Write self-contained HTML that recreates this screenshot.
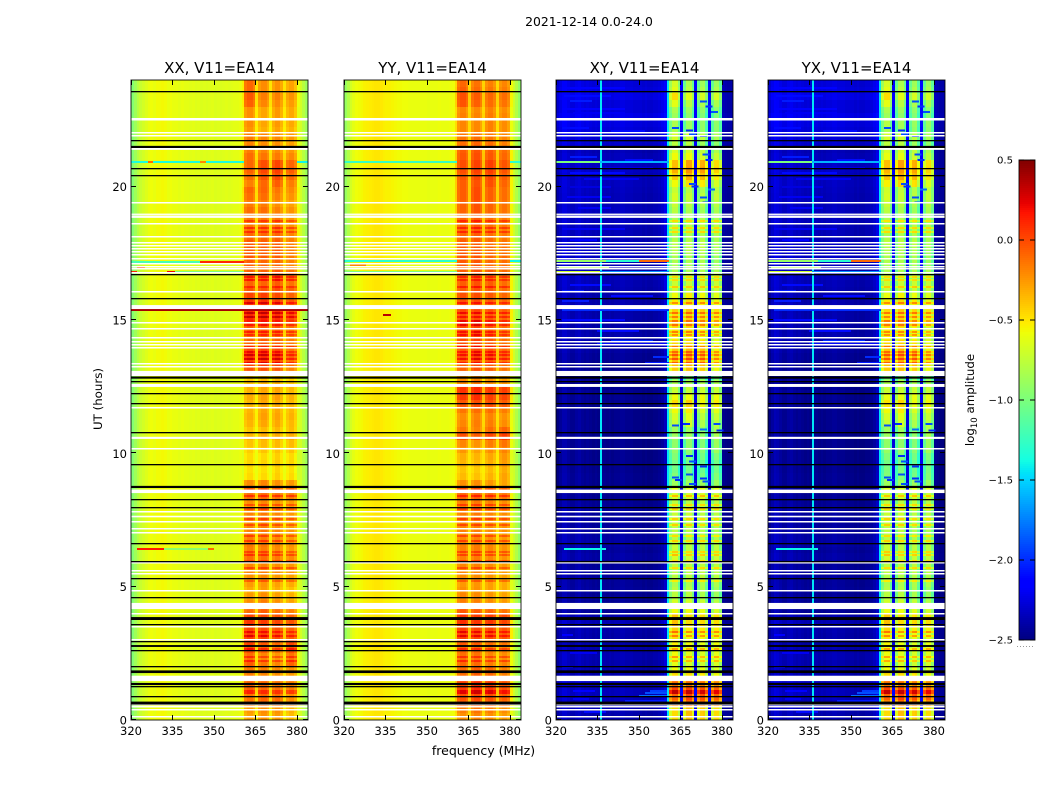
<!DOCTYPE html>
<html lang="en">
<head>
<meta charset="utf-8">
<title>2021-12-14 0.0-24.0</title>
<style>
html,body{margin:0;padding:0;background:#fff}
svg{display:block}
text{font-family:"DejaVu Sans","Liberation Sans",sans-serif;fill:#000}
</style>
</head>
<body>
<svg id="chart" xmlns="http://www.w3.org/2000/svg" width="1050" height="800" viewBox="0 0 1050 800">
<rect x="0" y="0" width="1050" height="800" fill="#fff"/>
<text x="589" y="26" font-size="12.4" text-anchor="middle">2021-12-14 0.0-24.0</text>
<text x="0" y="0" font-size="11.8" text-anchor="middle" transform="translate(102,399) rotate(-90)">UT (hours)</text>
<text x="483.5" y="755" font-size="12.5" text-anchor="middle">frequency (MHz)</text>
<text x="0" y="0" font-size="11.8" text-anchor="middle" transform="translate(974,400) rotate(-90)">log<tspan font-size="8.5" dy="3">10</tspan><tspan dy="-3"> amplitude</tspan></text>
</svg>
<script>
// ---------- Axis data ----------
const panelTitles = ["XX, V11=EA14", "YY, V11=EA14", "XY, V11=EA14", "YX, V11=EA14"];
const xTicks = [320, 335, 350, 365, 380];
const yTicks = [0, 5, 10, 15, 20];
const colorTicks = [0.5, 0.0, -0.5, -1.0, -1.5, -2.0, -2.5];
const colorTickLabels = ["0.5", "0.0", "\u22120.5", "\u22121.0", "\u22121.5", "\u22122.0", "\u22122.5"];

// ---------- Channel axis: 1 MHz channels starting at 320 MHz ----------
const channelCount = 64;
const rowHours = 0.25;

// 0 = outside the band, 1-4 = receiver sub-band number
const bandMask = [
0,0,0,0,0,0,0,0,0,0, 0,0,0,0,0,0,0,0,0,0,
0,0,0,0,0,0,0,0,0,0, 0,0,0,0,0,0,0,0,0,0,
0,1,1,1,1,0,2,2,2,2, 0,3,3,3,3,0,4,4,4,4, 0,0,0,0];

// log10 amplitude per channel (out of band absolute, in band relative to the row level)
const xxChannels = [
-0.97,-0.87,-0.78,-0.72,-0.68,-0.64,-0.6,-0.58,-0.6,-0.57,
-0.57,-0.56,-0.57,-0.6,-0.58,-0.6,-0.6,-0.62,-0.6,-0.62,
-0.62,-0.63,-0.62,-0.64,-0.63,-0.65,-0.64,-0.65,-0.64,-0.63,
-0.65,-0.64,-0.65,-0.64,-0.63,-0.64,-0.63,-0.62,-0.62,-0.6,
-0.56,-0.07,-0.01,-0.01,-0.09,-0.52,-0.07,-0.01,-0.01,-0.09,
-0.52,-0.07,0,0,-0.09,-0.52,-0.09,-0.03,-0.03,-0.13,
-0.62,-0.68,-0.78,-0.88];
const yyChannels = [
-0.9,-0.8,-0.68,-0.62,-0.58,-0.57,-0.56,-0.54,-0.53,-0.52,
-0.51,-0.5,-0.5,-0.51,-0.53,-0.54,-0.54,-0.55,-0.56,-0.57,
-0.57,-0.58,-0.58,-0.59,-0.6,-0.6,-0.6,-0.6,-0.6,-0.6,
-0.61,-0.6,-0.6,-0.6,-0.59,-0.6,-0.6,-0.6,-0.59,-0.58,
-0.5,-0.05,0.01,0.01,-0.07,-0.48,-0.05,0.02,0.02,-0.07,
-0.48,-0.05,0.01,0.01,-0.07,-0.5,-0.07,-0.01,-0.01,-0.09,
-0.62,-0.7,-0.8,-0.92];
const xyChannels = [
-2.5,-2.44,-2.38,-2.38,-2.42,-2.46,-2.46,-2.42,-2.4,-2.44,
-2.46,-2.44,-2.46,-2.48,-2.46,-2.48,-2.46,-2.46,-2.48,-2.46,
-2.48,-2.46,-2.46,-2.44,-2.44,-2.46,-2.46,-2.46,-2.48,-2.48,
-2.48,-2.5,-2.48,-2.5,-2.5,-2.48,-2.48,-2.46,-2.42,-2.34,
-1.45,-0.12,0.08,0.08,-0.22,-2.25,-0.18,0.08,0.08,-0.18,
-2.25,-0.12,0.08,0.1,-0.2,-2.2,-0.14,0.08,0.08,-0.16,
-2.46,-2.48,-2.5,-2.5];
const yxChannels = [
-2.5,-2.42,-2.36,-2.38,-2.42,-2.46,-2.46,-2.42,-2.4,-2.44,
-2.46,-2.44,-2.46,-2.48,-2.46,-2.48,-2.46,-2.46,-2.48,-2.46,
-2.48,-2.46,-2.46,-2.44,-2.44,-2.46,-2.46,-2.46,-2.48,-2.48,
-2.48,-2.5,-2.48,-2.5,-2.5,-2.48,-2.48,-2.46,-2.42,-2.34,
-1.45,-0.12,0.08,0.08,-0.22,-2.25,-0.18,0.08,0.08,-0.18,
-2.25,-0.12,0.08,0.1,-0.2,-2.2,-0.14,0.08,0.08,-0.16,
-2.46,-2.48,-2.5,-2.5];
// thin always-on spectral line in the cross hands (MHz, log10 amplitude)
const crossLineMHz = [336];
const crossLineLevel = [-1.45];

// ---------- Per-row levels, four values per UT hour, 0h at the start ----------
const xxBandRows = [
-0.3,-0.28,-0.15,-0.15, -0.1,-0.12,-0.2,-0.18, -0.15,-0.2,-0.1,-0.05, -0.02,-0.05,0,-0.05,
-0.1,-0.2,-0.25,-0.3, -0.28,-0.25,-0.2,-0.22, -0.15,-0.2,-0.18,-0.2, -0.2,-0.22,-0.2,-0.22,
-0.2,-0.1,-0.05,-0.2, -0.4,-0.42,-0.38,-0.4, -0.38,-0.35,-0.3,-0.35, -0.3,-0.28,-0.3,-0.3,
-0.28,-0.3,-0.35,-0.4, -0.1,-0.03,0.02,-0.05, -0.1,-0.12,-0.08,-0.05, 0.05,0.05,0,-0.05,
-0.05,-0.1,-0.05,-0.1, -0.1,-0.08,-0.08,-0.08, -0.1,-0.12,-0.15,-0.15, -0.15,-0.2,-0.15,-0.12,
-0.18,-0.12,-0.08,-0.1, -0.15,-0.2,-0.22,-0.2, -0.28,-0.25,-0.25,-0.25, -0.18,-0.15,-0.2,-0.2];
const yyBandRows = [
-0.25,-0.2,-0.08,-0.05, -0.02,-0.05,-0.18,-0.18, -0.15,-0.18,-0.15,-0.1, -0.05,-0.05,0,-0.02,
-0.1,-0.22,-0.25,-0.28, -0.28,-0.25,-0.22,-0.22, -0.2,-0.2,-0.2,-0.22, -0.22,-0.22,-0.2,-0.2,
-0.18,-0.1,-0.05,-0.25, -0.32,-0.35,-0.3,-0.28, -0.25,-0.2,-0.02,-0.15, -0.2,-0.22,-0.15,-0.05,
0,0.02,-0.25,-0.3, -0.12,-0.1,-0.05,-0.08, -0.08,-0.08,-0.08,-0.05, -0.08,-0.05,-0.08,-0.08,
-0.1,-0.1,-0.12,-0.1, -0.1,-0.1,-0.12,-0.12, -0.12,-0.12,-0.12,-0.12, -0.12,-0.12,-0.1,-0.1,
-0.1,-0.08,-0.05,-0.05, -0.08,-0.1,-0.15,-0.18, -0.2,-0.2,-0.18,-0.2, -0.12,-0.1,-0.15,-0.18];
const xyBandRows = [
-0.55,-0.55,-0.25,-0.15, -0.15,-0.3,-0.65,-0.75, -0.75,-0.7,-0.7,-0.65, -0.65,-0.6,-0.55,-0.55,
-0.7,-0.8,-0.9,-0.9, -0.9,-0.85,-0.85,-0.85, -0.8,-0.85,-0.85,-0.9, -0.9,-0.85,-0.85,-0.85,
-0.85,-0.75,-0.7,-0.95, -1.0,-1.05,-1.05,-1.0, -1.0,-1.0,-0.95,-0.95, -0.9,-0.85,-0.75,-0.65,
-0.65,-0.8,-0.9,-1.05, -0.6,-0.55,-0.5,-0.58, -0.62,-0.7,-0.65,-0.6, -0.6,-0.55,-0.65,-0.7,
-0.8,-0.8,-0.85,-0.9, -0.9,-0.9,-0.85,-0.85, -0.9,-0.85,-0.85,-0.9, -0.9,-0.85,-0.8,-0.85,
-0.75,-0.6,-0.5,-0.55, -0.75,-0.85,-0.95,-0.85, -0.95,-0.95,-1.0,-0.95, -0.85,-0.7,-0.85,-0.9];
const yxBandRows = [
-0.55,-0.55,-0.28,-0.15, -0.15,-0.32,-0.65,-0.75, -0.75,-0.72,-0.7,-0.68, -0.68,-0.62,-0.55,-0.58,
-0.72,-0.82,-0.9,-0.92, -0.9,-0.88,-0.85,-0.85, -0.82,-0.85,-0.85,-0.9, -0.9,-0.85,-0.85,-0.88,
-0.85,-0.78,-0.72,-0.95, -1.0,-1.02,-1.05,-1.0, -0.98,-1.0,-0.95,-0.95, -0.9,-0.85,-0.75,-0.68,
-0.68,-0.8,-0.9,-1.05, -0.6,-0.55,-0.5,-0.58, -0.62,-0.7,-0.68,-0.62, -0.62,-0.58,-0.65,-0.72,
-0.82,-0.8,-0.85,-0.9, -0.9,-0.9,-0.88,-0.85, -0.9,-0.85,-0.88,-0.9, -0.9,-0.85,-0.8,-0.82,
-0.72,-0.58,-0.52,-0.55, -0.78,-0.85,-0.95,-0.85, -0.95,-0.92,-1.0,-0.95, -0.85,-0.7,-0.85,-0.9];
// added to out-of-band channels in the cross hands
const crossBackgroundRows = [
0.08,0.1,0.1,0.12, 0.12,0.14,0.08,0.08, 0.08,0.1,0.08,0.05, 0.07,0.08,0.1,0.08,
0.02,0.02,0.02,0.04, 0.03,0.04,0.04,0.03, 0.06,0.04,0.06,0.06, 0.04,0.04,0.04,0.04,
0.02,0.01,0.01,0,    0.01,0,0,0,          0,0,0,0,             0,0,0,0.01,
0.01,0.01,0,0,       0.01,0.01,0.03,0.05, 0.07,0.08,0.07,0.07, 0.08,0.07,0.08,0.08,
0.09,0.1,0.12,0.1,   0.11,0.14,0.13,0.12, 0.11,0.11,0.12,0.11, 0.13,0.12,0.11,0.12,
0.13,0.12,0.14,0.14, 0.12,0.1,0.16,0.18,  0.2,0.22,0.24,0.2,   0.2,0.24,0.22,0.2];

// ---------- Sub-band offsets, one group of four (sub-bands 1-4) per UT hour ----------
const xxSubbands = [
0.03,0.08,0.05,-0.03, 0.05,0.02,-0.02,-0.02, 0.1,0.02,-0.04,0.1, 0.08,0.06,0.02,0,
0,0.05,-0.02,-0.05, 0.03,0.05,0,0, 0.05,0.05,0,-0.02, 0.03,0.06,0,-0.02,
0,0.02,-0.02,-0.02, -0.05,-0.05,-0.02,-0.03, -0.03,0,0,0.02, -0.03,0.02,0,-0.02,
-0.02,0.02,0.02,-0.02, 0.08,0.1,0.06,-0.05, 0.03,0.05,0.03,-0.03, 0.08,0.1,0.05,0,
0.03,0.03,0.05,0, 0.05,0.02,0.02,-0.05, 0.02,0.02,0.02,-0.05, 0.05,0.05,-0.02,-0.05,
0.02,0.1,0.12,0.05, 0.05,0.02,0,-0.02, 0.05,-0.03,0,-0.02, 0.12,0,-0.02,-0.05];
const yySubbands = [
0.02,0.05,0.03,0, 0.06,0.1,0.08,0.02, 0.05,0.03,-0.02,-0.02, 0.08,0.05,0.05,0.03,
0.05,0.03,0,-0.02, 0.02,0.02,0,-0.02, 0.02,0.03,0,-0.02, 0.03,0.03,0,0,
0.02,0.02,0,-0.02, -0.05,-0.08,-0.02,0.05, 0,-0.05,0.03,0.08, 0,0.02,0.03,0,
0.05,0.08,0.03,0.03, 0.03,0.08,0.05,0, 0.06,0.08,0.02,-0.03, 0.05,0.05,0.02,0,
0.03,0.06,0.03,0, 0.05,0.05,0,0, 0.03,0.05,0,-0.02, 0.03,0.08,0.03,0,
0.03,0.06,0.08,0.03, 0.03,0.05,0.03,0, 0,-0.02,0.02,0, 0.08,0.03,0,0];
const crossSubbands = [
0,0.1,0.05,0, 0.1,0.1,0.05,0, 0.05,0,-0.05,0, 0.1,0,0,0,
0.05,0.05,0,-0.05, 0,0,0,0, 0.05,0,0,0, 0.05,0.05,0,0,
0,0,0,0, -0.05,-0.05,-0.1,-0.05, 0,0,-0.05,0.05, 0.1,0.15,0,0.05,
0,0,0,0, 0.1,0.15,0.1,-0.05, 0.1,0.1,0.05,-0.05, 0.05,0.1,0.05,0,
0,0,0,0, 0,0,0,-0.05, 0,0,0,0, 0.05,0,-0.05,0,
0.1,0.2,0.15,0, 0.1,0.1,0,-0.05, 0.05,0,-0.05,-0.05, 0.15,0,-0.05,-0.05];

// ---------- Flagged rows (UT hours) ----------
const whiteLines = [22.55,22.5,22,21.89,19.38,18.6,18.11,17.88,17.78,17.65,17.54,17.43,17.3,17.11,16.99,16.91,16.75,16.04,14.88,14.65,14.31,14.16,14.05,13.94,13.35,13.23,11.7,10.15,7.8,7.41,7.15,7,5.88,5.58,5.49,4.83,3.96,3.49,3.01,0.56,0.48,0.38,0.1];
const whiteBandStarts = [21.38,18.94,18.83,15.41,12.9,12.49,10.54,8.51,7.6,4.16,1.46];
const whiteBandEnds   = [21.45,18.99,18.92,15.56,13.09,12.6,10.62,8.64,7.66,4.39,1.66];
const blackLines = [23.56,21.7,20.65,20.39,16.69,15.78,12.66,12.21,11.84,10.75,9.55,8.24,7.94,6.59,5.91,5.28,4.56,3.55,2.94,2.58,1.98,1.24,0.85];
const blackBandStarts = [21.45,12.8,8.7,3.75,2.74,1.76,1.31,0.58];
const blackBandEnds   = [21.53,12.88,8.78,3.86,2.81,1.86,1.39,0.69];
// brighter in-band rows
const stripeHours = [13.4,13.55,13.7,13.8,14,14.45,14.55,14.8,14.95,15.1,15.25,15.65,16.25,16.5,16.6,18.3,18.45,18.7,5.2,5.7,5.95,6.2,6.3,6.7,6.9,7.3,7.55,7.9,8.05,8.4,3.3,3.15,2.65,2.35,2.2,1.1,1.0];

// ---------- RFI rows: UT hour, start MHz, end MHz, log10 amplitude ----------
const xxInterference = [[20.91,320,361,-1.35],[20.91,326,328,-0.1],[20.91,345,347,-0.2],[20.91,380,384,-1.4],[17.19,320,330,-1.2],[17.19,330,345,-1.2],[17.19,345,361,0.1],[17.0,322,325,0.05],[16.8,320,322,0.1],[16.8,333,336,0.2],[16.8,336,361,-1.0],[15.37,320,384,0.4],[6.41,322,332,0.15],[6.41,332,348,-0.95],[6.41,348,350,-0.1]];
const yyInterference = [[20.91,320,361,-1.25],[20.91,380,384,-1.3],[17.2,320,361,-1.3],[17.2,380,384,-1.4],[17.05,322,328,-0.2],[16.8,320,361,-1.0],[15.18,334,337,0.35]];
const xyInterference = [[20.91,320,336,-1.0],[20.91,336,361,-1.6],[17.2,320,338,-0.9],[17.2,338,350,-1.3],[17.2,350,361,-0.1],[17.0,321,339,-0.8],[16.8,320,336,-0.7],[16.8,336,361,-1.7],[15.37,322,361,-2.0],[6.41,323,338,-1.4]];
const yxInterference = [[20.91,320,336,-1.0],[20.91,336,361,-1.6],[17.2,320,338,-0.9],[17.2,338,350,-1.3],[17.2,350,361,-0.1],[17.0,321,339,-0.8],[16.8,320,336,-0.7],[16.8,336,361,-1.7],[15.37,322,361,-2.0],[6.41,323,338,-1.4]];

// ---------- Faint streaks in the cross hands: UT hour, start MHz, end MHz, log10 amplitude ----------
const crossStreaks = [[23.7,322,345,-2.15],[23.4,323,340,-2.1],[23.2,325,333,-2.05],[22.9,322,345,-2.15],[22.75,326,345,-2.2],[22.2,322,332,-2.1],[22.1,340,352,-2.1],[21.9,320,360,-2.25],[20.7,335,355,-2.25],[20.5,325,345,-2.1],[20.3,330,350,-2.2],[21.1,325,335,-2.05],[21.0,345,355,-2.1],[20,325,340,-2.25],[19.6,324,340,-2.2],[19.2,328,340,-2.2],[18.4,322,345,-2.2],[18,325,335,-2.15],[16.3,325,340,-2.1],[16.1,322,330,-2.05],[15.9,340,355,-2.1],[15.7,322,332,-2.05],[14.6,335,350,-2.1],[14.2,340,355,-2.0],[14.1,335,360,-2.1],[13.6,355,361,-2.0],[13.4,352,361,-2.05],[15,322,345,-2.1],[1.1,354,360,-1.95],[1,352,360,-1.9],[0.9,350,360,-1.8],[0.7,345,360,-2.05],[1.1,326,334,-2.15],[0.8,326,332,-2.2],[0.3,330,338,-2.1],[2,322,326,-2.1],[2.5,325,335,-2.2],[3.2,322,326,-2.15]];

// ---------- Dark spectral features in the cross hands: UT hour, MHz, log10 amplitude ----------
const crossFeatures = [[23.2,372,-1.9],[23,374,-2.0],[22.8,376,-1.9],[19.4,373,-1.9],[19.6,372,-1.9],[20.0,369,-2.0],[20.1,368,-1.9],[19.9,375,-1.8],[21.2,373,-1.9],[21.0,374,-2.0],[11.1,366,-2.0],[11.05,362,-1.9],[10.9,372,-1.8],[11.1,377,-1.9],[10.85,378,-2.0],[9.9,367,-2.0],[9.7,368,-1.9],[9.5,372,-2.0],[9.1,362,-1.9],[9.0,363,-2.0],[9.2,367,-1.9],[9.05,372,-2.0],[8.95,373,-1.9],[8.85,368,-1.9],[22.2,362,-1.9],[22.1,367,-2.0],[21.95,368,-1.9],[21.9,372,-2.0]];

// ---------- Scales ----------
const panelLefts = [131, 344, 556, 768];
const panelWidth = 177;
const plotTop = 80, plotBottom = 720;
const colorTop = 160, colorBottom = 640, colorLeft = 1019, colorWidth = 16;
const vMin = -2.5, vMax = 0.5;

function xScale(panel, mhz) { return panelLefts[panel] + (mhz - 320) * panelWidth / channelCount; }
function yScale(hour) { return plotBottom - hour * (plotBottom - plotTop) / 24; }
function colorScale(v) { return colorBottom - (v - vMin) * (colorBottom - colorTop) / (vMax - vMin); }

function lerp(stops, t) {
  for (let i = 1; i < stops.length; i++) {
    if (t <= stops[i][0]) {
      const a = stops[i - 1], b = stops[i];
      return a[1] + (b[1] - a[1]) * (t - a[0]) / (b[0] - a[0]);
    }
  }
  return stops[stops.length - 1][1];
}
const redStops = [[0,0],[0.35,0],[0.66,1],[0.89,1],[1,0.5]];
const greenStops = [[0,0],[0.125,0],[0.375,1],[0.64,1],[0.91,0],[1,0]];
const blueStops = [[0,0.5],[0.11,1],[0.34,1],[0.65,0],[1,0]];
function jet(v) {
  const t = Math.min(1, Math.max(0, (v - vMin) / (vMax - vMin)));
  const c = s => Math.round(255 * lerp(s, t));
  return "rgb(" + c(redStops) + "," + c(greenStops) + "," + c(blueStops) + ")";
}

const NS = "http://www.w3.org/2000/svg";
const svg = document.getElementById("chart");
function shape(parent, tag, props) {
  const el = document.createElementNS(NS, tag);
  for (const k in props) el.setAttribute(k, props[k]);
  parent.appendChild(el);
  return el;
}

const channelsByPanel = [xxChannels, yyChannels, xyChannels, yxChannels];
const bandRowsByPanel = [xxBandRows, yyBandRows, xyBandRows, yxBandRows];
const subbandsByPanel = [xxSubbands, yySubbands, crossSubbands, crossSubbands];
const noiseByPanel = [xxInterference, yyInterference, xyInterference, yxInterference];

function bandLevel(p, r, c) {
  const hourIndex = Math.floor(r * rowHours);
  return bandRowsByPanel[p][r] + channelsByPanel[p][c] + subbandsByPanel[p][hourIndex * 4 + bandMask[c] - 1];
}

function drawPanel(p) {
  const g = shape(svg, "g", {});
  
  
  const cellLayer = shape(g, "g", {"shape-rendering": "crispEdges"});
  
  
  const profile = channelsByPanel[p], bandRows = bandRowsByPanel[p];
  const cross = p >= 2;

  for (let r = 0; r < bandRows.length; r++) {
    const y0 = Math.round(yScale((r + 1) * rowHours)), y1 = Math.round(yScale(r * rowHours));
    for (let c = 0; c < channelCount; c++) {
      let v;
      if (bandMask[c]) v = bandLevel(p, r, c);
      else if (cross && profile[c] < -2) v = profile[c] + crossBackgroundRows[r] * (c > 40 ? 0.5 : 1);
      else if (!cross && c >= 40 && c <= 60) v = profile[c] + 0.5 * (bandRows[r] + 0.25);
      else v = profile[c];
      const x0 = Math.round(xScale(p, 320 + c)), x1 = Math.round(xScale(p, 321 + c));
      const cell = shape(cellLayer, "rect", {x: x0, y: y0, width: x1 - x0, height: y1 - y0, fill: jet(v)});
      
      
    }
  }

  stripeHours.forEach(h => {
    const r = Math.min(bandRows.length - 1, Math.floor(h / rowHours));
    for (let c = 0; c < channelCount; c++) {
      if (!bandMask[c]) continue;
      const x0 = Math.round(xScale(p, 320 + c)), x1 = Math.round(xScale(p, 321 + c));
      const stripe = shape(cellLayer, "rect", {x: x0, y: Math.round(yScale(h)) - 1, width: x1 - x0, height: 2, fill: jet(bandLevel(p, r, c) + (cross ? 0.3 : 0.2))});
      
      
    }
  });

  if (cross) {
    crossStreaks.forEach(s => {
      const x0 = Math.round(xScale(p, s[1])), x1 = Math.round(xScale(p, s[2]));
      const streak = shape(cellLayer, "rect", {x: x0, y: Math.round(yScale(s[0])) - 1, width: x1 - x0, height: 2, fill: jet(s[3])});
      
      
    });
    crossLineMHz.forEach((m, i) => {
      const spectral = shape(cellLayer, "rect", {x: Math.round(xScale(p, m)), y: plotTop, width: 2, height: plotBottom - plotTop, fill: jet(crossLineLevel[i])});
      
      
    });
    crossFeatures.forEach(f => {
      const x0 = xScale(p, f[1]);
      const feature = shape(cellLayer, "rect", {x: x0, y: yScale(f[0]) - 1, width: 7, height: 2, fill: jet(f[2])});
      
      
    });
  }

  noiseByPanel[p].forEach(n => {
    const x0 = Math.round(xScale(p, n[1])), x1 = Math.round(xScale(p, n[2]));
    const line = shape(cellLayer, "rect", {x: x0, y: Math.round(yScale(n[0])) - 1, width: x1 - x0, height: 2, fill: jet(n[3])});
    
    
  });

  const left = panelLefts[p], right = left + panelWidth;
  whiteLines.forEach(h => {
    const flag = shape(g, "rect", {x: left, y: Math.round(yScale(h)) - 1, width: panelWidth, height: 1.5, fill: "#fff"});
    
    
  });
  whiteBandStarts.forEach((s, i) => {
    const flag = shape(g, "rect", {x: left, y: yScale(whiteBandEnds[i]), width: panelWidth, height: yScale(s) - yScale(whiteBandEnds[i]), fill: "#fff"});
    
    
  });
  blackLines.forEach(h => {
    const gap = shape(g, "rect", {x: left, y: Math.round(yScale(h)) - 1, width: panelWidth, height: 1.3, fill: "#000"});
    
    
  });
  blackBandStarts.forEach((s, i) => {
    const gap = shape(g, "rect", {x: left, y: yScale(blackBandEnds[i]), width: panelWidth, height: yScale(s) - yScale(blackBandEnds[i]), fill: "#000"});
    
    
  });

  const frame = shape(g, "rect", {x: left, y: plotTop, width: panelWidth, height: plotBottom - plotTop, fill: "none", stroke: "#000", "stroke-width": 1, opacity: 0.85});
  
  

  xTicks.forEach(t => {
    const x = Math.round(xScale(p, t)) + 0.5;
    const tickB = shape(g, "line", {x1: x, x2: x, y1: plotBottom, y2: plotBottom - 5, stroke: "#000", "stroke-width": 1});
    
    
    const tickT = shape(g, "line", {x1: x, x2: x, y1: plotTop, y2: plotTop + 5, stroke: "#000", "stroke-width": 1});
    
    
    const label = shape(g, "text", {x: xScale(p, t), y: 735, "font-size": 11.5, "text-anchor": "middle"});
    label.textContent = t;
    
    
  });
  yTicks.forEach(t => {
    const y = Math.round(yScale(t)) - 0.5;
    const tickL = shape(g, "line", {x1: left, x2: left + 5, y1: y, y2: y, stroke: "#000", "stroke-width": 1});
    
    
    const tickR = shape(g, "line", {x1: right, x2: right - 5, y1: y, y2: y, stroke: "#000", "stroke-width": 1});
    
    
    const label = shape(g, "text", {x: left - 4, y: yScale(t) + 4.5, "font-size": 11.5, "text-anchor": "end"});
    label.textContent = t;
    
    
  });
  const title = shape(g, "text", {x: left + panelWidth / 2, y: 73, "font-size": 15, "text-anchor": "middle"});
  title.textContent = panelTitles[p];
  
  
}
panelTitles.forEach((_, p) => drawPanel(p));

function drawColorbar() {
  const g = shape(svg, "g", {});
  
  
  const ramp = shape(g, "g", {"shape-rendering": "crispEdges"});
  
  
  const steps = 240;
  for (let i = 0; i < steps; i++) {
    const v = vMin + (vMax - vMin) * (i + 0.5) / steps;
    const y1 = colorScale(vMin + (vMax - vMin) * (i + 1) / steps);
    const seg = shape(ramp, "rect", {x: colorLeft, y: y1, width: colorWidth, height: (colorBottom - colorTop) / steps, fill: jet(v)});
    
    
  }
  const frame = shape(g, "rect", {x: colorLeft, y: colorTop, width: colorWidth, height: colorBottom - colorTop, fill: "none", stroke: "#000", "stroke-width": 1, opacity: 0.85});
  
  
  colorTicks.forEach((t, i) => {
    const y = colorScale(t);
    const tickL = shape(g, "line", {x1: colorLeft, x2: colorLeft + 5, y1: y, y2: y, stroke: "#000", "stroke-width": 1});
    
    
    const tickR = shape(g, "line", {x1: colorLeft + colorWidth, x2: colorLeft + colorWidth - 5, y1: y, y2: y, stroke: "#000", "stroke-width": 1});
    
    
    const label = shape(g, "text", {x: colorLeft - 6, y: y + 3.5, "font-size": 10.1, "text-anchor": "end"});
    label.textContent = colorTickLabels[i];
    
    
  });
  const dots = shape(g, "line", {x1: 1017, x2: 1035, y1: 646.5, y2: 646.5, stroke: "#999", "stroke-width": 1, "stroke-dasharray": "1 2"});
  
  
}
drawColorbar();
</script>
</body>
</html>
